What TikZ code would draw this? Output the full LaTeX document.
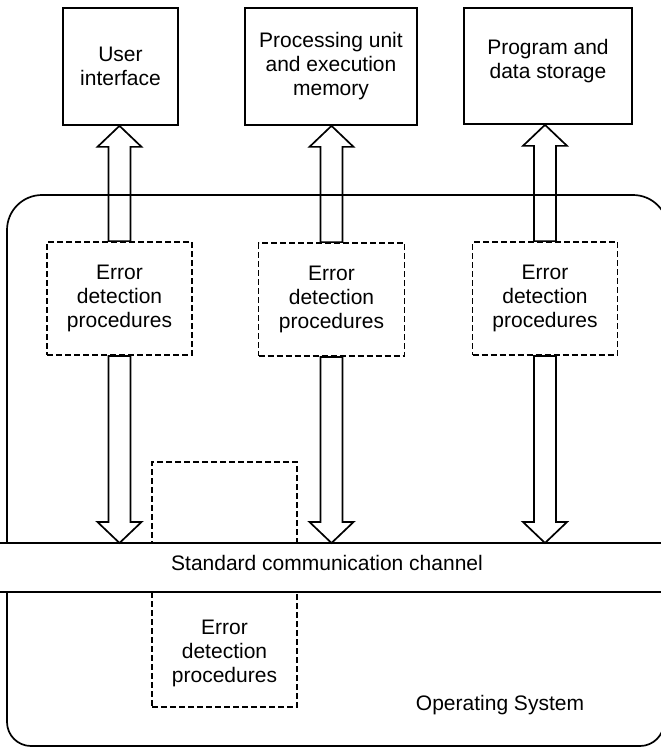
\documentclass[tikz,border=0pt]{standalone}
\usepackage{fontspec}
\setmainfont{Liberation Sans}
\usetikzlibrary{calc}
\begin{document}
\begin{tikzpicture}[x=1pt,y=-1pt,line width=1.7pt,
  solidbox/.style={draw,rectangle,align=center,inner sep=0pt},
  dashbox/.style={draw,rectangle,align=center,inner sep=0pt,line width=1.8pt,dash pattern=on 6pt off 3pt},
  lbl/.style={font=\fontsize{21}{24}\selectfont},
  bigarrow/.style={draw,line join=miter}]
\useasboundingbox (0,0) rectangle (661,748);
\clip (0,0) rectangle (661,748);
% regions
\draw[rounded corners=35pt] (7,543) -- (7,195) -- (668,195) -- (668,543);
\draw (0,543) -- (661,543);
\draw[rounded corners=24pt] (7,592) -- (7,746) -- (664,746) -- (664,592);
\draw (0,592) -- (661,592);
\coordinate (chtop) at (0,543);
% top boxes
\node[solidbox,lbl,minimum width=115pt,minimum height=117pt] (ui) at (120.5,66.5) {User\\interface};
\node[solidbox,lbl,minimum width=172pt,minimum height=117pt] (pu) at (331,66.5) {Processing unit\\and execution\\memory};
\node[solidbox,minimum width=168pt,minimum height=116pt] (pd) at (548,66) {};
\node[lbl,align=center] (pdt) at (548,61) {Program and\\data storage};
% dashed boxes
\node[dashbox,lbl,minimum width=145pt,minimum height=113pt] (ed1) at (119.5,298.5) {Error\\detection\\procedures};
\node[dashbox,lbl,minimum width=146pt,minimum height=113pt] (ed2) at (331.5,299.5) {Error\\detection\\procedures};
\node[dashbox,lbl,minimum width=145pt,minimum height=113pt] (ed3) at (545,298.5) {Error\\detection\\procedures};
\node[dashbox,minimum width=145pt,minimum height=81pt] (emp) at (224.5,502.5) {};
\node[dashbox,minimum width=145pt,minimum height=115pt] (ed4) at (224.5,649.5) {};
\node[lbl,align=center] (ed4t) at (224.5,653) {Error\\detection\\procedures};
% texts
\node[lbl] (ch) at (327,563) {Standard communication channel};
\node[lbl] (os) at (500,705) {Operating System};
% up arrows
\foreach \a/\b in {ed1/ui,ed2/pu,ed3/pd}{
  \draw[bigarrow] let \p1=(\a.north), \p2=(\b.south) in
    (\x1,\y2) -- ++(22,21) -- ++(-11,0) -- (\x1+11pt,\y1) -- (\x1-11pt,\y1)
    -- (\x1-11pt,\y2-21pt) -- ++(-11,0) -- cycle;
}
% down arrows
\foreach \a in {ed1,ed2,ed3}{
  \draw[bigarrow] let \p1=(\a.south), \p2=(chtop) in
    (\x1,\y2) -- ++(22,-21) -- ++(-11,0) -- (\x1+11pt,\y1) -- (\x1-11pt,\y1)
    -- (\x1-11pt,\y2+21pt) -- ++(-11,0) -- cycle;
}
\end{tikzpicture}
\end{document}
